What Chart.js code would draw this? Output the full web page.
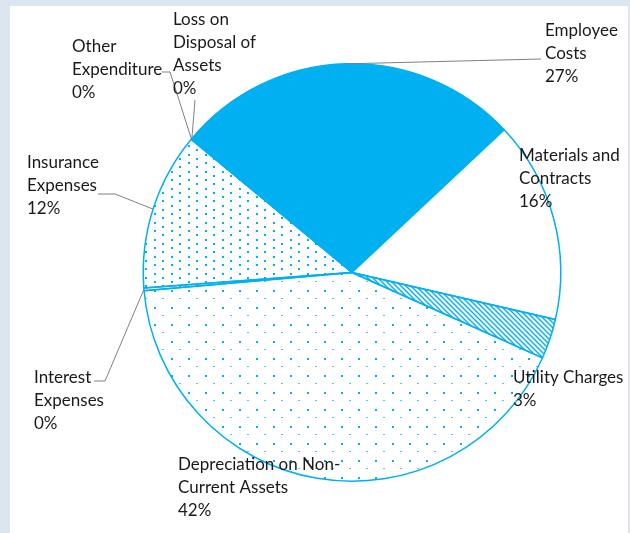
<!DOCTYPE html>
<html>
<head>
<meta charset="utf-8">
<script src="https://cdn.jsdelivr.net/npm/chart.js@4.4.0/dist/chart.umd.min.js"></script>
<style>
    html, body { margin: 0; padding: 0; background: #dce6f1; }
    #wrap { position: relative; width: 630px; height: 533px; }
    #panel { position: absolute; left: 10px; top: 6px; width: 618px; height: 527px; background: #ffffff; }
    canvas { position: absolute; left: 0; top: 0; }
</style>
</head>
<body>
<div id="wrap">
    <div id="panel"></div>
    <canvas id="expenseChart" width="630" height="533"></canvas>
</div>
<script>
// Expense categories and their share (%)
const categories = [
    ['Employee', 'Costs'],
    ['Materials and', 'Contracts'],
    ['Utility Charges'],
    ['Depreciation on Non-', 'Current Assets'],
    ['Interest', 'Expenses'],
    ['Insurance', 'Expenses'],
    ['Other', 'Expenditure'],
    ['Loss on', 'Disposal of', 'Assets']
];
const shares = [26.9, 15.6, 3.1, 41.9, 0.2, 12.2, 0.05, 0.05];

const BLUE = '#00b0f0';

// Label placement (left x, first line y) and leader elbows
const labelSpots = [
    { x: 545, y: 31, leader: [[541, 59]] },
    { x: 519, y: 156, leader: null },
    { x: 513, y: 378, leader: null },
    { x: 178, y: 465, leader: null },
    { x: 34, y: 378, leader: [[105, 381], [94, 381]] },
    { x: 27, y: 163, leader: [[115, 194], [98, 194]] },
    { x: 72, y: 47, leader: [[170, 72], [162, 72]] },
    { x: 173, y: 20, leader: [[195, 100]] }
];

function makeTile(w, h, draw) {
    const c = document.createElement('canvas');
    c.width = w;
    c.height = h;
    const g = c.getContext('2d');
    draw(g);
    return document.getElementById('expenseChart').getContext('2d').createPattern(c, 'repeat');
}

// small dots (insurance)
const densDots = makeTile(17, 17, g => {
    g.fillStyle = BLUE;
    g.fillRect(1, 1, 2, 2);
    g.fillRect(9, 5, 2, 2);
    g.fillRect(1, 9, 2, 2);
    g.fillRect(9, 13, 2, 2);
});

// sparse dots (depreciation)
const sparseDots = makeTile(17, 17, g => {
    g.fillStyle = BLUE;
    g.fillRect(1, 1, 2, 2);
    g.globalAlpha = 0.7;
    g.fillRect(9, 9, 2, 1);
});

// diagonal hatch (utility)
const hatch = makeTile(5, 5, g => {
    g.strokeStyle = BLUE;
    g.lineWidth = 1.4;
    g.beginPath();
    g.moveTo(-1, -1); g.lineTo(6, 6);
    g.moveTo(-4, 1); g.lineTo(4, 9);
    g.moveTo(1, -4); g.lineTo(9, 4);
    g.stroke();
});

const fills = [BLUE, '#ffffff', hatch, sparseDots, densDots, densDots, densDots, densDots];

const labelPlugin = {
    id: 'pieLabels',
    afterDraw(chart) {
        const ctx = chart.ctx;
        const meta = chart.getDatasetMeta(0);
        ctx.save();
        meta.data.forEach((arc, i) => {
            const spot = labelSpots[i];
            if (spot.leader) {
                const mid = (arc.startAngle + arc.endAngle) / 2;
                const r = arc.outerRadius;
                ctx.strokeStyle = '#808080';
                ctx.lineWidth = 1;
                ctx.beginPath();
                ctx.moveTo(arc.x + r * Math.cos(mid), arc.y + r * Math.sin(mid));
                spot.leader.forEach(p => ctx.lineTo(p[0], p[1]));
                ctx.stroke();
            }
            const lines = categories[i].concat([Math.round(shares[i]) + '%']);
            ctx.fillStyle = '#1a1a1a';
            ctx.font = '17px Lato';
            ctx.textAlign = 'left';
            ctx.textBaseline = 'middle';
            lines.forEach((t, k) => ctx.fillText(t, spot.x, spot.y + k * 22.8));
        });
        ctx.restore();
    }
};

new Chart(document.getElementById('expenseChart'), {
    type: 'pie',
    data: {
        labels: categories.map(c => c.join(' ')),
        datasets: [{
            data: shares,
            backgroundColor: fills,
            borderColor: BLUE,
            borderWidth: 1.5
        }]
    },
    options: {
        responsive: false,
        animation: false,
        rotation: -50,
        layout: {
            padding: { left: 100, right: 26, top: 63, bottom: 51 }
        },
        plugins: {
            legend: { display: false },
            tooltip: { enabled: false }
        }
    },
    plugins: [labelPlugin]
});
</script>
</body>
</html>
